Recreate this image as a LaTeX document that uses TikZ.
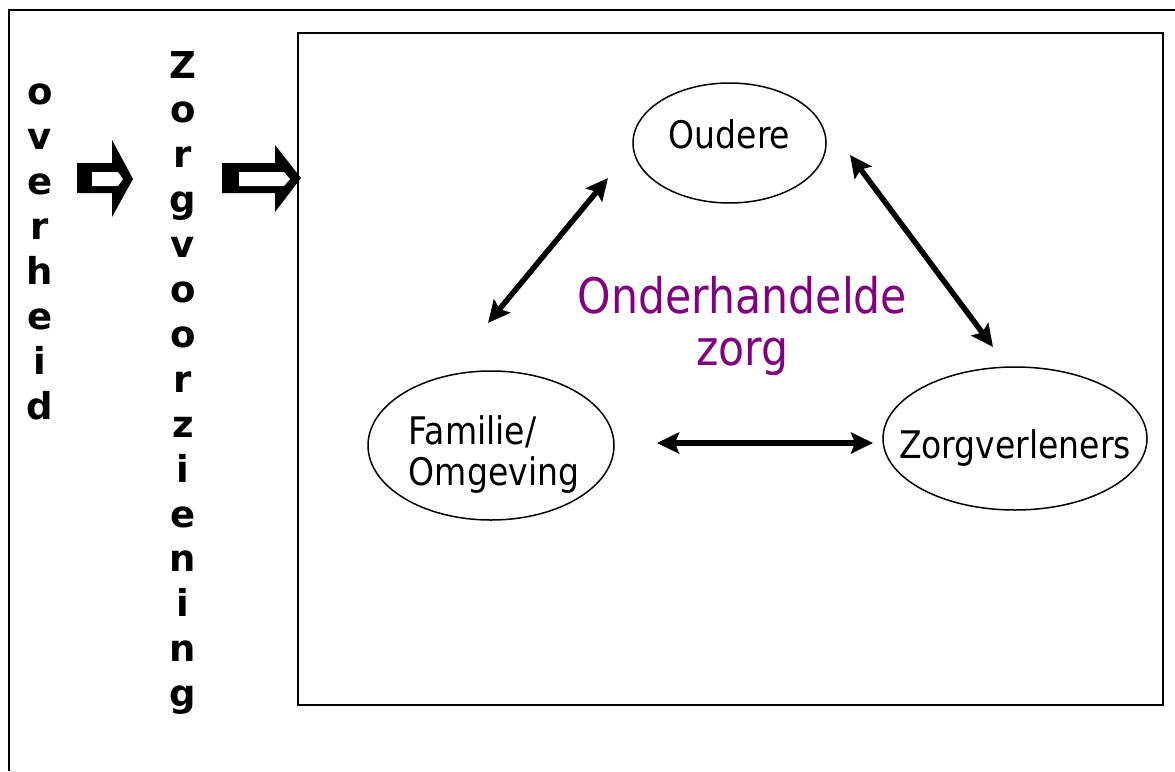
\documentclass[tikz,border=0pt]{standalone}
\usepackage{fontspec}
\setmainfont{DejaVu Sans}
\newfontfamily\tahfont{DejaVu Sans}[FakeStretch=0.87]
\usetikzlibrary{shapes.geometric,arrows.meta}
\definecolor{purp}{RGB}{128,0,128}
\newcommand\zerobox[2]{\raisebox{#1}[0pt][0pt]{\makebox[0pt]{#2}}}
\begin{document}
\begin{tikzpicture}[x=1pt,y=-1pt,
  lbl/.style={font=\tahfont\fontsize{38}{40}\selectfont},
  oval/.style={ellipse, draw, line width=1.5pt, inner sep=0pt},
  vletter/.style={font=\bfseries\fontsize{37}{45}\selectfont, anchor=base, inner sep=0pt},
  tipS/.tip={Stealth[length=22pt,width=21pt,inset=4pt]},
  link/.style={line width=5.5pt, tipS-tipS},
  frame/.style={line width=2pt}]
\useasboundingbox (0,0) rectangle (1175,771);
% outer frame (only top and left visible)
\draw[frame] (9,771) -- (9,10) -- (1175,10);
% inner box
\node[draw, line width=2pt, minimum width=865pt, minimum height=672pt, anchor=north west, inner sep=0pt] (box) at (297,32) {};
% vertical words
\foreach \c [count=\i from 0] in {o,v,e,r,h,e,i,d}
  \node[vletter] (ov\i) at (40,104+45*\i) {\c};
\foreach \c [count=\i from 0] in {Z,o,r,g,v,o,o,r,z,i,e,n,i,n,g}
  \node[vletter] (zv\i) at (183,78+44.9*\i) {\c};
% block arrows
\fill (77,163) -- (112,163) -- (112,140) -- (133,179) -- (112,217) -- (112,193) -- (77,193) -- cycle;
\fill[white] (92,172) -- (118,172) -- (123,179) -- (118,186) -- (92,186) -- cycle;
\fill (222,163) -- (275,163) -- (275,145) -- (301,178) -- (275,212) -- (275,193) -- (222,193) -- cycle;
\fill[white] (239,172) -- (284,172) -- (290,179) -- (284,186) -- (239,186) -- cycle;
% ellipses
\node[oval, lbl, minimum width=193pt, minimum height=120pt] (oud) at (729.5,143) {\zerobox{-5pt}{Oudere}};
\node[oval, lbl, minimum width=246pt, minimum height=149pt] (fam) at (491,445.5) {\zerobox{-39.5pt}{\hspace*{6pt}\begin{tabular}[b]{@{}l@{}}Familie/\\Omgeving\end{tabular}}};
\node[oval, lbl, minimum width=264pt, minimum height=143pt] (zv) at (1015,438.5) {\zerobox{-19.5pt}{Zorgverleners}};
% centre text
\node[inner sep=0pt, font=\tahfont\fontsize{49}{52}\selectfont, text=purp] (neg) at (742.5,365) {\zerobox{0pt}{\begin{tabular}[b]{@{}c@{}}Onderhandelde\\zorg\end{tabular}}};
% connector ends
\coordinate (a1) at (488,323);
\coordinate (a2) at (608,178);
\coordinate (b1) at (850,155);
\coordinate (b2) at (993,347);
\coordinate (c1) at (657,443);
\coordinate (c2) at (873,443);
\draw[link] (a1) -- (a2);
\draw[link] (b1) -- (b2);
\draw[link] (c1) -- (c2);
\end{tikzpicture}
\end{document}
